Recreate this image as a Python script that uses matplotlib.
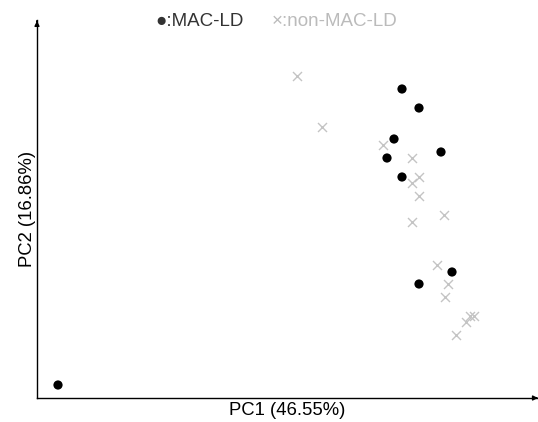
import matplotlib.pyplot as plt

plt.rcParams['font.family'] = ['Liberation Sans', 'DejaVu Sans']

# PCA scores (arbitrary units)
mac_x = [21, 365, 382, 357, 350, 404, 365, 415, 382]
mac_y = [13, 309, 290, 259, 240, 246, 221, 126, 114]

non_x = [260, 285, 346, 375, 382, 375, 382, 407, 375, 400, 411, 408, 429, 433, 437, 419]
non_y = [322, 271, 253, 240, 221, 215, 202, 183, 176, 133, 114, 101, 76, 82, 82, 63]

fig = plt.figure(figsize=(5.38, 4.22), dpi=100)
ax = fig.add_axes([37 / 538, 24 / 422, 501 / 538, 378 / 422])

ax.scatter(non_x, non_y, marker='x', s=42, c='#c4c4c4', linewidths=1.0, zorder=2)
ax.scatter(mac_x, mac_y, marker='o', s=44, c='black', edgecolors='none', zorder=3)

ax.set_xlim(0, 501)
ax.set_ylim(0, 378)
ax.set_xticks([])
ax.set_yticks([])
for s in ['top', 'right']:
    ax.spines[s].set_visible(False)
for s in ['left', 'bottom']:
    ax.spines[s].set_linewidth(1.0)

# arrow heads on the axes
ax.annotate('', xy=(1.0, 0), xytext=(0.99, 0), xycoords='axes fraction',
            arrowprops=dict(arrowstyle='-|>', color='black', lw=1, mutation_scale=7),
            annotation_clip=False)
ax.annotate('', xy=(0, 1.005), xytext=(0, 0.99), xycoords='axes fraction',
            arrowprops=dict(arrowstyle='-|>', color='black', lw=1, mutation_scale=7),
            annotation_clip=False)

ax.set_xlabel('PC1 (46.55%)', fontsize=13.3, labelpad=3)
ax.set_ylabel('PC2 (16.86%)', fontsize=13.3, labelpad=1)

fig.text(155 / 538, 1 - 22 / 422, '\u25cf:MAC-LD', color='#333333', fontsize=13.5,
         va='center', ha='left')
fig.text(272 / 538, 1 - 22 / 422, '\u00d7:non-MAC-LD', color='#bbbbbb', fontsize=13.5,
         va='center', ha='left')

fig.savefig('out.png', dpi=100)
